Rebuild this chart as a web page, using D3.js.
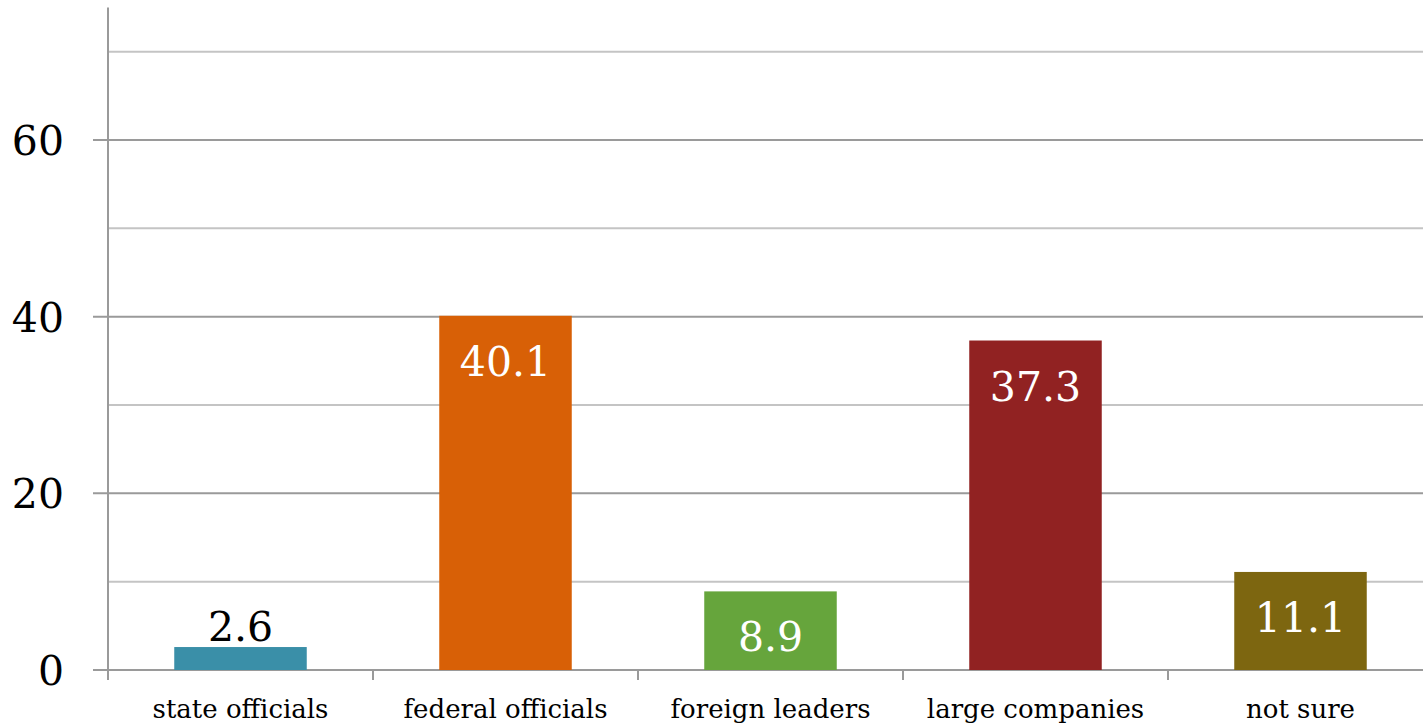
<!DOCTYPE html>
<html>
<head>
<meta charset="utf-8">
<script src="https://d3js.org/d3.v7.min.js"></script>
<style>
  body { margin: 0; background: #fff; }
  text { font-family: "DejaVu Serif", serif; }
</style>
</head>
<body>
<div id="chart"></div>
<script>
  // data
  var categories = ["state officials", "federal officials", "foreign leaders", "large companies", "not sure"];
  var values = [2.6, 40.1, 8.9, 37.3, 11.1];
  var colors = ["#3a8fa8", "#d86006", "#66a53c", "#912222", "#7d6610"];
  var majorTicks = [0, 20, 40, 60];
  var minorTicks = [10, 30, 50, 70];

  var W = 1423, H = 724;
  var svg = d3.select("#chart").append("svg").attr("width", W).attr("height", H);

  var x = d3.scaleBand().domain(categories).range([108, 1433]).padding(0);
  var y = d3.scaleLinear().domain([0, 75]).range([670, 7.5]);

  // minor gridlines
  svg.selectAll(".minor").data(minorTicks).enter().append("line")
      .attr("x1", 108).attr("x2", W)
      .attr("y1", function (d) { return y(d); })
      .attr("y2", function (d) { return y(d); })
      .style("stroke", "#c4c4c4").style("stroke-width", 2);

  // major gridlines + ticks
  svg.selectAll(".major").data(majorTicks).enter().append("line")
      .attr("x1", 93).attr("x2", W)
      .attr("y1", function (d) { return y(d); })
      .attr("y2", function (d) { return y(d); })
      .style("stroke", "#9a9a9a").style("stroke-width", 2);

  svg.selectAll(".ylab").data(majorTicks).enter().append("text")
      .attr("x", 64).attr("y", function (d) { return y(d) + 15; })
      .style("text-anchor", "end")
      .style("font-size", "41px")
      .text(function (d) { return d; });

  // y axis line
  svg.append("line")
      .attr("x1", 108).attr("x2", 108)
      .attr("y1", y(75)).attr("y2", 680)
      .style("stroke", "#9a9a9a").style("stroke-width", 2);

  // x ticks
  svg.selectAll(".xtick").data(categories).enter().append("line")
      .attr("x1", function (d) { return x(d) + x.bandwidth(); })
      .attr("x2", function (d) { return x(d) + x.bandwidth(); })
      .attr("y1", 670).attr("y2", 680)
      .style("stroke", "#9a9a9a").style("stroke-width", 2);

  // bars
  var bw = x.bandwidth() * 0.5;
  svg.selectAll(".bar").data(categories).enter().append("rect")
      .attr("x", function (d) { return x(d) + x.bandwidth() / 2 - bw / 2; })
      .attr("y", function (d, i) { return y(values[i]); })
      .attr("width", bw)
      .attr("height", function (d, i) { return 670 - y(values[i]); })
      .style("fill", function (d, i) { return colors[i]; });

  // value labels
  svg.selectAll(".val").data(categories).enter().append("text")
      .attr("x", function (d) { return x(d) + x.bandwidth() / 2; })
      .attr("y", function (d, i) {
        var top = y(values[i]);
        return values[i] < 5 ? top - 6 : top + 60;
      })
      .style("text-anchor", "middle")
      .style("font-size", "41px")
      .style("fill", function (d, i) { return values[i] < 5 ? "#000" : "#fff"; })
      .text(function (d, i) { return d3.format(".1f")(values[i]); });

  // category labels
  svg.selectAll(".xlab").data(categories).enter().append("text")
      .attr("x", function (d) { return x(d) + x.bandwidth() / 2; })
      .attr("y", 718)
      .style("text-anchor", "middle")
      .style("font-size", "26px")
      .text(function (d) { return d; });
</script>
</body>
</html>
